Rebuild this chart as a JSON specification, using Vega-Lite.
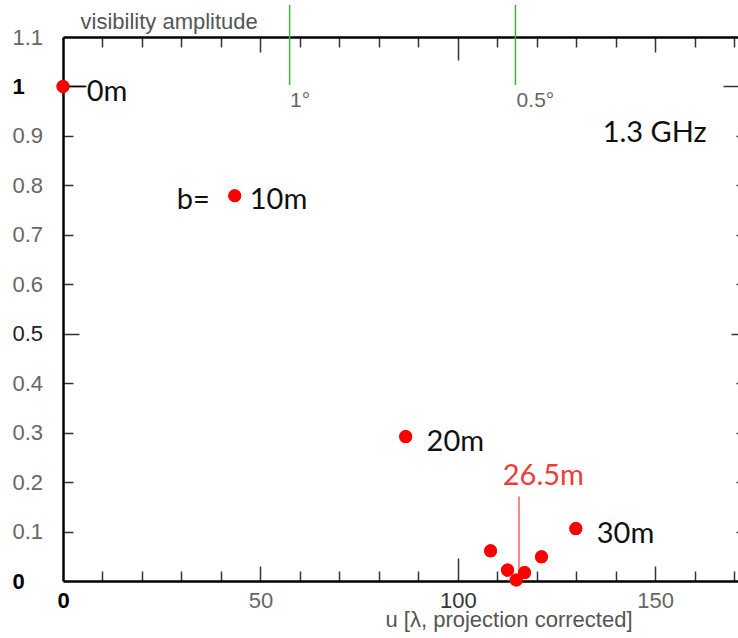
{
  "$schema": "https://vega.github.io/schema/vega-lite/v6.json",
  "width": 683,
  "height": 544,
  "autosize": "none",
  "padding": {"left": 63, "top": 37, "right": 0, "bottom": 57},
  "background": "white",
  "config": {
    "view": {"stroke": null, "fill": null},
    "axis": {"grid": false, "gridColor": "#333", "gridWidth": 1.5, "gridOpacity": 1}
  },
  "datasets": {
    "points": [
      {"u": 0, "amp": 1.0},
      {"u": 43.5, "amp": 0.779},
      {"u": 86.8, "amp": 0.292},
      {"u": 108.3, "amp": 0.061},
      {"u": 112.6, "amp": 0.022},
      {"u": 114.8, "amp": 0.002},
      {"u": 116.9, "amp": 0.017},
      {"u": 121.2, "amp": 0.049},
      {"u": 129.9, "amp": 0.106}
    ],
    "angles": [
      {"u": 57.4, "lo": 1.003, "hi": 1.165, "name": "1°"},
      {"u": 114.6, "lo": 1.003, "hi": 1.165, "name": "0.5°"}
    ],
    "connector": [{"u": 0, "u2": 5.75, "amp": 1.0}],
    "marker": [{"u": 115.5, "lo": 0.01, "hi": 0.171}],
    "blackText": [
      {"u": 6.0, "amp": 0.988, "text": "0m"},
      {"u": 28.8, "amp": 0.771, "text": "b="},
      {"u": 47.3, "amp": 0.771, "text": "10m"},
      {"u": 92.1, "amp": 0.282, "text": "20m"},
      {"u": 135.2, "amp": 0.096, "text": "30m"},
      {"u": 136.7, "amp": 0.905, "text": "1.3 GHz"}
    ],
    "redText": [{"u": 111.4, "amp": 0.212, "text": "26.5m"}],
    "grayText": [
      {"u": 57.5, "amp": 0.97, "text": "1°"},
      {"u": 114.9, "amp": 0.97, "text": "0.5°"}
    ]
  },
  "layer": [
    {
      "data": {"name": "points"},
      "mark": {"type": "circle", "color": "#ff0000", "opacity": 1, "size": 170},
      "encoding": {
        "x": {
          "field": "u", "type": "quantitative",
          "scale": {"domain": [0, 173], "nice": false, "zero": true},
          "axis": {
            "orient": "bottom",
            "title": "u [λ, projection corrected]",
            "titleFont": "Liberation Sans", "titleFontSize": 22, "titleFontWeight": "normal", "titleColor": "#555",
            "titleAnchor": "start", "titleAlign": "left", "titleBaseline": "alphabetic",
            "titleX": 322, "titleY": 45,
            "values": [0, 50, 100, 150],
            "labelFont": "Liberation Sans", "labelFontSize": 22, "labelPadding": 9,
            "labelColor": {"condition": [{"test": "datum.value === 0", "value": "#000"}, {"test": "datum.value === 100", "value": "#333"}], "value": "#666"},
            "labelFontWeight": {"condition": {"test": "datum.value === 0", "value": "bold"}, "value": "normal"},
            "labelFlush": false, "labelOverlap": false,
            "domainColor": "#000", "domainWidth": 2.5,
            "ticks": false
          }
        },
        "y": {
          "field": "amp", "type": "quantitative",
          "scale": {"domain": [0, 1.1], "nice": false, "zero": true},
          "axis": {
            "orient": "left",
            "title": "visibility amplitude",
            "titleFont": "Liberation Sans", "titleFontSize": 22, "titleFontWeight": "normal", "titleColor": "#555",
            "titleAngle": 0, "titleAlign": "left", "titleBaseline": "alphabetic", "titleAnchor": null,
            "titleX": 17, "titleY": -9,
            "values": [0, 0.1, 0.2, 0.3, 0.4, 0.5, 0.6, 0.7, 0.8, 0.9, 1, 1.1],
            "format": "~g",
            "labelFont": "Liberation Sans", "labelFontSize": 22, "labelAlign": "left", "labelPadding": 51,
            "labelColor": {"condition": [{"test": "datum.value === 0 || datum.value === 1", "value": "#000"}, {"test": "datum.value === 0.5", "value": "#222"}], "value": "#666"},
            "labelFontWeight": {"condition": {"test": "datum.value === 0 || datum.value === 1", "value": "bold"}, "value": "normal"},
            "labelFlush": false, "labelOverlap": false,
            "domainColor": "#000", "domainWidth": 2.5,
            "ticks": false
          }
        }
      }
    },
    {
      "data": {"name": "angles"},
      "mark": {"type": "rule", "color": "#3cb043", "strokeWidth": 1.5, "clip": false},
      "encoding": {
        "x": {
          "field": "u", "type": "quantitative",
          "axis": {"orient": "top", "title": null, "labels": false, "ticks": false, "domainColor": "#000", "domainWidth": 2.5}
        },
        "y": {
          "field": "lo", "type": "quantitative",
          "axis": {"orient": "right", "title": null, "labels": false, "ticks": false, "domainColor": "#000", "domainWidth": 2.5}
        },
        "y2": {"field": "hi"}
      }
    },
    {
      "data": {"name": "connector"},
      "mark": {"type": "rule", "color": "#000", "strokeWidth": 1.5},
      "encoding": {
        "x": {"field": "u", "type": "quantitative",
          "axis": {"orient": "bottom", "title": null, "labels": false, "domain": false, "ticks": false, "grid": true, "gridDash": [10, 2000],
            "values": [10, 20, 30, 40, 60, 70, 80, 90, 110, 120, 130, 140, 160, 170]}},
        "x2": {"field": "u2"},
        "y": {"field": "amp", "type": "quantitative",
          "axis": {"orient": "left", "title": null, "labels": false, "domain": false, "ticks": false, "grid": true, "gridDash": [10, 2000],
            "values": [0.1, 0.2, 0.3, 0.4, 0.6, 0.7, 0.8, 0.9]}}
      }
    },
    {
      "data": {"name": "marker"},
      "mark": {"type": "rule", "color": "#ee3b3b", "strokeWidth": 1.2},
      "encoding": {
        "x": {"field": "u", "type": "quantitative",
          "axis": {"orient": "top", "title": null, "labels": false, "domain": false, "ticks": false, "grid": true, "gridDash": [10, 2000],
            "values": [10, 20, 30, 40, 60, 70, 80, 90, 110, 120, 130, 140, 160, 170]}},
        "y": {"field": "lo", "type": "quantitative",
          "axis": {"orient": "right", "title": null, "labels": false, "domain": false, "ticks": false, "grid": true, "gridDash": [10, 2000],
            "values": [0.1, 0.2, 0.3, 0.4, 0.6, 0.7, 0.8, 0.9]}},
        "y2": {"field": "hi"}
      }
    },
    {
      "data": {"name": "points"},
      "mark": {"type": "circle", "color": "#ff0000", "opacity": 1, "size": 170},
      "encoding": {
        "x": {"field": "u", "type": "quantitative",
          "axis": {"orient": "bottom", "title": null, "labels": false, "domain": false, "ticks": false, "grid": true, "gridDash": [15, 2000],
            "values": [50, 150]}},
        "y": {"field": "amp", "type": "quantitative",
          "axis": {"orient": "left", "title": null, "labels": false, "domain": false, "ticks": false, "grid": true, "gridDash": [16, 2000],
            "values": [0.5]}}
      }
    },
    {
      "data": {"name": "blackText"},
      "mark": {"type": "text", "align": "left", "baseline": "middle", "font": "Lato", "fontSize": 29, "color": "#111"},
      "encoding": {
        "x": {"field": "u", "type": "quantitative",
          "axis": {"orient": "top", "title": null, "labels": false, "domain": false, "ticks": false, "grid": true, "gridDash": [15, 2000],
            "values": [50, 150]}},
        "y": {"field": "amp", "type": "quantitative",
          "axis": {"orient": "right", "title": null, "labels": false, "domain": false, "ticks": false, "grid": true, "gridDash": [15, 2000],
            "values": [0.5]}},
        "text": {"field": "text"}
      }
    },
    {
      "data": {"name": "redText"},
      "mark": {"type": "text", "align": "left", "baseline": "middle", "font": "Lato", "fontSize": 29, "color": "#ee3b3b"},
      "encoding": {
        "x": {"field": "u", "type": "quantitative",
          "axis": {"orient": "bottom", "title": null, "labels": false, "domain": false, "ticks": false, "grid": true, "gridDash": [23, 2000],
            "values": [100]}},
        "y": {"field": "amp", "type": "quantitative",
          "axis": {"orient": "left", "title": null, "labels": false, "domain": false, "ticks": false, "grid": true, "gridDash": [23, 2000],
            "values": [1]}},
        "text": {"field": "text"}
      }
    },
    {
      "data": {"name": "grayText"},
      "mark": {"type": "text", "align": "left", "baseline": "middle", "font": "Liberation Sans", "fontSize": 21, "color": "#666"},
      "encoding": {
        "x": {"field": "u", "type": "quantitative",
          "axis": {"orient": "top", "title": null, "labels": false, "domain": false, "ticks": false, "grid": true, "gridDash": [23, 2000],
            "values": [100]}},
        "y": {"field": "amp", "type": "quantitative",
          "axis": {"orient": "right", "title": null, "labels": false, "domain": false, "ticks": false, "grid": true, "gridDash": [23, 2000],
            "values": [1]}},
        "text": {"field": "text"}
      }
    }
  ],
  "resolve": {"axis": {"x": "independent", "y": "independent"}}
}
